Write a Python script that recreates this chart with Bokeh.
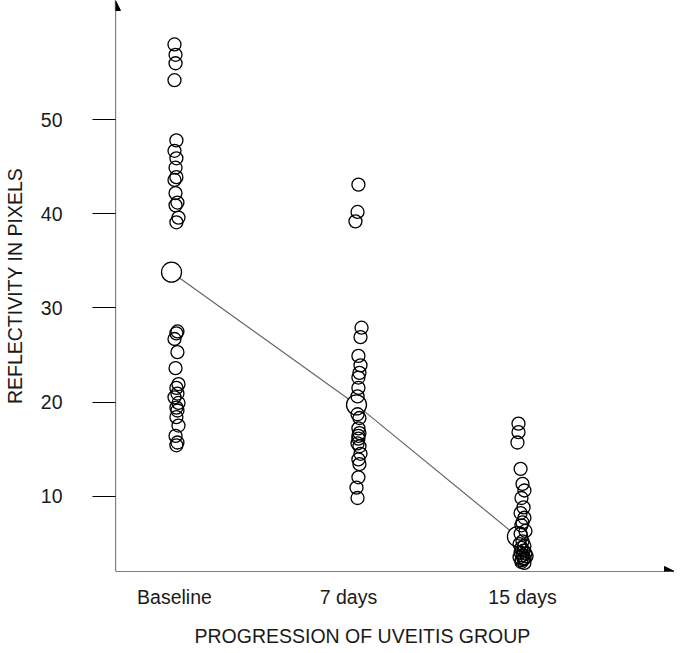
import numpy as np
from bokeh.plotting import figure
from bokeh.models import FixedTicker, Arrow, NormalHead, Range1d, Title
from bokeh.embed import file_html
from bokeh.resources import INLINE

# ---- data ----
groups = ["Baseline", "7 days", "15 days"]
group_pos = [1, 2, 3]

baseline_values = [58.0, 56.9, 56.0, 54.2, 47.8, 46.7, 45.9, 44.9, 43.9, 43.6, 42.2,
                   41.2, 40.9, 39.6, 39.1, 27.5, 27.3, 26.7, 25.3, 23.6, 21.9, 21.5,
                   20.9, 20.5, 19.9, 19.4, 19.1, 18.4, 17.5, 16.4, 15.7, 15.4]
baseline_jitter = [0, 0.006, 0.006, 0, 0.011, 0, 0.011, 0.006, 0.011, 0, 0.006,
                   0.017, 0.006, 0.023, 0.011, 0.017, 0.011, 0, 0.017, 0.006, 0.023, 0.011,
                   0.017, 0, 0.023, 0.011, 0.017, 0.011, 0.023, 0.006, 0.017, 0.011]

days7_values = [43.1, 40.2, 39.2, 27.9, 26.9, 24.9, 23.9, 23.1, 22.6, 21.5, 20.6, 18.7,
                18.3, 17.2, 16.7, 16.4, 16.1, 15.6, 15.3, 14.5, 13.9, 13.4, 12.0, 10.9, 9.8]
days7_jitter = [0.057, 0.052, 0.040, 0.075, 0.069, 0.057, 0.069, 0.063, 0.057, 0.057, 0.052, 0.052,
                0.063, 0.057, 0.063, 0.057, 0.057, 0.052, 0.063, 0.069, 0.057, 0.063, 0.057, 0.046, 0.052]

days15_values = [17.7, 16.8, 15.7, 12.9, 11.3, 10.6, 9.8, 8.8, 8.2, 7.7, 7.2, 6.9, 6.3, 6.0,
                 5.2, 4.9, 4.7, 4.5, 4.2, 4.0, 3.9, 3.7, 3.5, 3.4, 3.2, 3.3, 3.6, 3.0, 2.9]
days15_jitter = [-0.023, -0.023, -0.029, -0.011, 0, 0.011, -0.006, 0.006, -0.011, 0.011, 0, -0.006,
                 0.017, -0.011, 0, -0.017, 0.011, -0.006, 0.006, -0.011, 0.017, 0, -0.017, 0.011,
                 -0.006, 0.006, 0.023, -0.006, 0.011]

mean_values = [33.8, 19.7, 5.7]
mean_jitter = [-0.017, 0.046, -0.029]

y_ticks = [10, 20, 30, 40, 50]

x_title = "PROGRESSION OF UVEITIS GROUP"
y_title = "REFLECTIVITY IN PIXELS"

# ---- figure ----
x0, x1 = 0.661, 3.8735
y0, y1 = 1.99, 62.67
FONT = "Liberation Sans"
FS = "19.5px"
TXT = "#1a1a1a"

p = figure(frame_width=559, frame_height=571,
           x_range=Range1d(x0, x1), y_range=Range1d(y0, y1),
           output_backend="svg", toolbar_location=None,
           min_border_left=110, min_border_right=0, min_border_top=0, min_border_bottom=66)
p.outline_line_color = None
p.grid.visible = False
p.background_fill_color = "white"
p.border_fill_color = "white"

# mean line and mean markers
mx = [g + j for g, j in zip(group_pos, mean_jitter)]
p.line(mx, mean_values, line_color="#666666", line_width=1.2)
p.scatter(mx, mean_values, marker="circle", size=20, fill_color="white",
          line_color="black", line_width=1.3)

for g, vals, jit in [(1, baseline_values, baseline_jitter),
                     (2, days7_values, days7_jitter),
                     (3, days15_values, days15_jitter)]:
    xs = (g + np.array(jit)).tolist()
    p.scatter(xs, vals, marker="circle", size=13, fill_color=None,
              line_color="black", line_width=1.3)

# y axis
p.yaxis.ticker = FixedTicker(ticks=y_ticks)
p.yaxis.minor_tick_line_color = None
p.yaxis.major_tick_out = 23
p.yaxis.major_tick_in = 0
p.yaxis.major_label_standoff = 30
p.yaxis.axis_line_color = None
p.yaxis.major_tick_line_color = "black"
p.yaxis.axis_label = y_title
p.yaxis.axis_label_standoff = 12

# x axis
p.xaxis.ticker = FixedTicker(ticks=group_pos)
p.xaxis.major_label_overrides = {pos: name for pos, name in zip(group_pos, groups)}
p.xaxis.minor_tick_line_color = None
p.xaxis.major_tick_line_color = None
p.xaxis.major_tick_out = 0
p.xaxis.major_tick_in = 0
p.xaxis.axis_line_color = None
p.xaxis.major_label_standoff = 14

for ax in [p.xaxis, p.yaxis]:
    ax.major_label_text_font = FONT
    ax.major_label_text_font_size = FS
    ax.major_label_text_color = TXT
    ax.axis_label_text_font = FONT
    ax.axis_label_text_font_size = FS
    ax.axis_label_text_font_style = "normal"
    ax.axis_label_text_color = TXT

# x-axis title (left of the frame centre, as in the original)
p.add_layout(Title(text=x_title, align="left", offset=79, standoff=24,
                   text_font=FONT, text_font_size=FS, text_font_style="normal",
                   text_color=TXT), "below")

# axis lines with arrow heads
p.add_layout(Arrow(end=NormalHead(size=10, fill_color="black", line_color="black"),
                   x_start=x0, y_start=y0, x_end=x0, y_end=y1,
                   line_color="black", line_width=1.2))
p.add_layout(Arrow(end=NormalHead(size=10, fill_color="black", line_color="black"),
                   x_start=x0, y_start=y0, x_end=x1, y_end=y0,
                   line_color="black", line_width=1.2))

open("out.html", "w").write(file_html(p, INLINE))
